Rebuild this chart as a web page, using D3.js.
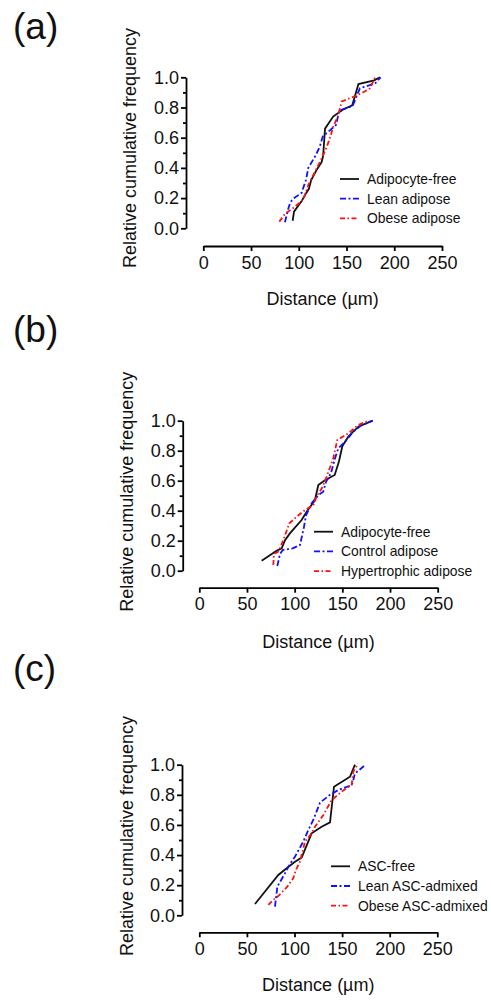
<!DOCTYPE html>
<html>
<head>
  <meta charset="utf-8">
  <style>
    html, body {
      margin: 0;
      padding: 0;
      background: #fff;
      width: 491px;
      height: 1000px;
      overflow: hidden;
    }
    svg {
      display: block;
      font-family: Arial, "Liberation Sans", sans-serif;
    }
    .axis path, .axis line {
      stroke: #000;
      stroke-width: 1.8px;
    }
    .axis text {
      font-size: 18px;
      fill: #111;
    }
    .series {
      fill: none;
      stroke-width: 1.8px;
    }
  </style>
</head>
<body>
  <svg width="491" height="1000"></svg>

  <script src="https://d3js.org/d3.v7.min.js"></script>
  <script>
    // x ticks and y ticks shared by all three panels
    const xTicks = [0, 50, 100, 150, 200, 250];
    const yTicks = [0, 0.2, 0.4, 0.6, 0.8, 1.0];
    const yMinorTicks = [0.1, 0.3, 0.5, 0.7, 0.9];

    // panel (a): [distance, cumulative frequency]
    const aLabels = ["Adipocyte-free", "Lean adipose", "Obese adipose"];
    const aFree = [[93.6,0.05],[95,0.11],[103,0.18],[108,0.236],[110.5,0.26],[113,0.32],[119,0.39],[124,0.44],[125.5,0.48],[127.5,0.66],[136,0.74],[146,0.785],[156,0.815],[162.5,0.955],[179,0.98],[185,1.0]];
    const aLean = [[85.5,0.04],[89,0.13],[91,0.17],[94,0.195],[103,0.235],[107.5,0.32],[110,0.4],[117,0.475],[122,0.54],[125,0.607],[131,0.64],[139,0.684],[142.5,0.78],[156.4,0.81],[164,0.927],[180,0.96],[185.7,1.0]];
    const aObese = [[79.6,0.044],[85.5,0.095],[96,0.143],[104.7,0.19],[110,0.287],[117,0.375],[123,0.45],[127.4,0.51],[132,0.585],[136,0.67],[141.4,0.75],[145,0.84],[157,0.87],[165.8,0.894],[174.6,0.927],[180,1.0]];

    // panel (b)
    const bLabels = ["Adipocyte-free", "Control adipose", "Hypertrophic adipose"];
    const bFree = [[65.4,0.067],[81,0.133],[86.4,0.149],[89.9,0.204],[95,0.249],[107.3,0.338],[112.6,0.393],[121.3,0.471],[124.8,0.571],[131,0.6],[142,0.638],[146.5,0.73],[150,0.83],[156.3,0.895],[166.8,0.96],[181.8,1.0]];
    const bControl = [[81.8,0.031],[84.6,0.111],[87.4,0.138],[97.9,0.149],[105.6,0.171],[109.8,0.293],[112,0.371],[117.8,0.449],[124.8,0.504],[130,0.527],[132.9,0.593],[138,0.649],[142.3,0.749],[145.8,0.816],[154.5,0.871],[161.5,0.927],[170.3,0.971],[181.8,1.0]];
    const bHyper = [[77.6,0.038],[78.3,0.111],[82.9,0.127],[88.1,0.204],[94.4,0.316],[102.1,0.36],[110.8,0.404],[119.6,0.438],[123,0.493],[129.4,0.56],[133.6,0.627],[140.5,0.749],[144.7,0.871],[156.3,0.916],[166.8,0.971],[177.3,1.0]];

    // panel (c)
    const cLabels = ["ASC-free", "Lean ASC-admixed", "Obese ASC-admixed"];
    const cFree = [[58.5,0.075],[83,0.268],[91.7,0.312],[100.5,0.356],[107.5,0.383],[118,0.544],[128.5,0.588],[137.3,0.617],[141.5,0.854],[158.3,0.92],[163.5,1.0]];
    const cLean = [[79.5,0.058],[82,0.19],[90,0.279],[95.2,0.341],[100.5,0.389],[109.2,0.489],[114.5,0.566],[119.7,0.633],[126.8,0.748],[137.3,0.8],[146,0.832],[160,0.865],[161.8,0.898],[163.5,0.942],[173,0.991]];
    const cObese = [[72.5,0.069],[77.7,0.102],[83,0.128],[92.4,0.19],[98.7,0.246],[101.5,0.301],[105.7,0.356],[111,0.489],[118,0.544],[121.5,0.588],[130.3,0.666],[139,0.765],[149.5,0.821],[160,0.865],[161.8,0.954],[165.3,0.991]];

    const styles = [
      { color: "#111", dash: null },
      { color: "#1010ff", dash: "6,2.5,2,2.5" },
      { color: "#ff1010", dash: "5,2.5,1.5,2.5" }
    ];

    const panels = [
      { tag: "(a)", tagY: 39, labels: aLabels, series: [aFree, aLean, aObese],
        yAxisX: 186, yTop: 77.3, yBottom: 228.3, xAxisY: 246, xLeft: 203.3, xRight: 442,
        yLabelX: 136, yLabelY: 148, xLabelY: 299,
        legX: 340, legY: 179 },
      { tag: "(b)", tagY: 342, labels: bLabels, series: [bFree, bControl, bHyper],
        yAxisX: 182.7, yTop: 420.7, yBottom: 570.7, xAxisY: 587.7, xLeft: 199.3, xRight: 437.7,
        yLabelX: 133, yLabelY: 491.7, xLabelY: 641.7,
        legX: 314, legY: 531.7 },
      { tag: "(c)", tagY: 681, labels: cLabels, series: [cFree, cLean, cObese],
        yAxisX: 182, yTop: 764.7, yBottom: 915.3, xAxisY: 932.3, xLeft: 199.3, xRight: 437.3,
        yLabelX: 133, yLabelY: 836, xLabelY: 985,
        legX: 331, legY: 866.3 }
    ];

    const svg = d3.select("svg");
    const W = 491;

    panels.forEach(p => {
      const g = svg.append("g");

      const x = d3.scaleLinear().domain([0, 250]).range([p.xLeft, p.xRight]);
      const y = d3.scaleLinear().domain([0, 1]).range([p.yBottom, p.yTop]);

      // panel letter
      g.append("text")
        .attr("x", 13)
        .attr("y", p.tagY)
        .attr("font-size", 37)
        .attr("fill", "#111")
        .text(p.tag);

      // x axis, offset below the plot
      g.append("g")
        .attr("class", "axis")
        .attr("transform", `translate(0,${p.xAxisY})`)
        .call(d3.axisBottom(x).tickValues(xTicks).tickSize(5).tickPadding(5)
          .tickSizeOuter(0).tickFormat(d3.format("d")));

      // y axis, offset left of the plot
      g.append("g")
        .attr("class", "axis")
        .attr("transform", `translate(${p.yAxisX},0)`)
        .call(d3.axisLeft(y).tickValues(yTicks).tickSize(5).tickPadding(2)
          .tickSizeOuter(0).tickFormat(d3.format(".1f")));

      g.append("g")
        .attr("class", "axis")
        .attr("transform", `translate(${p.yAxisX},0)`)
        .call(d3.axisLeft(y).tickValues(yMinorTicks).tickSize(3)
          .tickSizeOuter(0).tickFormat(""))
        .select(".domain").remove();

      // axis titles
      g.append("text")
        .attr("transform", `translate(${p.yLabelX},${p.yLabelY}) rotate(-90)`)
        .attr("text-anchor", "middle")
        .attr("font-size", 18)
        .attr("fill", "#111")
        .text("Relative cumulative frequency");

      g.append("text")
        .attr("x", (p.xLeft + p.xRight) / 2)
        .attr("y", p.xLabelY)
        .attr("dy", "0.35em")
        .attr("text-anchor", "middle")
        .attr("font-size", 18)
        .attr("fill", "#111")
        .text("Distance (\u00b5m)");

      // cumulative frequency lines
      const line = d3.line().x(d => x(d[0])).y(d => y(d[1]));

      p.series.forEach((s, i) => {
        g.append("path")
          .datum(s)
          .attr("class", "series")
          .attr("stroke", styles[i].color)
          .attr("stroke-dasharray", styles[i].dash)
          .attr("d", line);
      });

      // legend
      const leg = g.append("g").attr("transform", `translate(${p.legX},${p.legY})`);
      p.labels.forEach((lab, i) => {
        const row = leg.append("g").attr("transform", `translate(0,${i * 19.7})`);
        row.append("line")
          .attr("x1", 0).attr("x2", 19)
          .attr("stroke", styles[i].color)
          .attr("stroke-width", 1.8)
          .attr("stroke-dasharray", styles[i].dash);
        const t = row.append("text")
          .attr("x", 27)
          .attr("dy", "0.35em")
          .attr("font-size", 13.9)
          .attr("fill", "#111")
          .text(lab);
        // keep long labels inside the page
        const room = W - 2 - (p.legX + 27);
        const len = t.node().getComputedTextLength();
        if (len > room) {
          t.attr("textLength", room).attr("lengthAdjust", "spacingAndGlyphs");
        }
      });
    });
  </script>
</body>
</html>
